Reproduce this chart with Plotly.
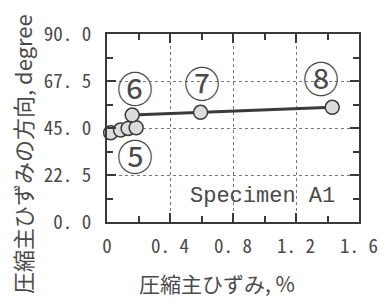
import plotly.graph_objects as go

# data
cluster_x = [0.023, 0.086, 0.134, 0.185]
cluster_y = [42.7, 44.0, 44.8, 45.1]
line_x = [0.16, 0.594, 1.43]
line_y = [51.2, 52.5, 54.9]
label_text = ["⑤", "⑥", "⑦", "⑧"]
label_x = [0.18, 0.18, 0.60, 1.356]
label_y = [32.1, 64.8, 67.2, 69.6]
x_ticks = [0, 0.4, 0.8, 1.2, 1.6]
x_ticktext = ["0", "0. 4", "0. 8", "1. 2", "1. 6"]
y_ticks = [0, 22.5, 45, 67.5, 90]
y_ticktext = ["0. 0", "22. 5", "45. 0", "67. 5", "90. 0"]

ink = "#3a3a3a"
txt = "#4a4a4a"
mk = dict(size=14, color="#dcdcdc", line=dict(color=ink, width=1.5))
mono = "Noto Sans Mono CJK JP, Noto Sans CJK JP, DejaVu Sans Mono"

L, R, T, B = 107, 29, 34, 83
W, H = 388, 305
pw, ph = W - L - R, H - T - B

fig = go.Figure()
fig.add_trace(go.Scatter(x=cluster_x, y=cluster_y, mode="markers", marker=mk,
                         showlegend=False, cliponaxis=False))
fig.add_trace(go.Scatter(x=line_x, y=line_y, mode="lines+markers", marker=mk,
                         line=dict(color=ink, width=3), showlegend=False, cliponaxis=False))

for t, x, y in zip(label_text, label_x, label_y):
    fig.add_annotation(x=x, y=y, text=t, showarrow=False,
                       font=dict(family="Noto Sans CJK JP", size=36, color=txt))

fig.add_annotation(x=0.99, y=12.1, xanchor="center", text="Specimen A1", showarrow=False,
                   xref="x", yref="y",
                   font=dict(family="Liberation Mono", size=22, color=txt))

# y-axis title (vertical)
fig.add_annotation(xref="paper", yref="paper", x=(4 - L) / pw, y=(H - B - 154) / ph,
                   textangle=-90, text="圧縮主ひずみの方向, degree", showarrow=False,
                   font=dict(family="Noto Sans CJK JP", size=22, color=txt))
# x-axis title
fig.add_annotation(xref="paper", yref="paper", x=(217 - L) / pw, y=(H - B - 300) / ph,
                   text="圧縮主ひずみ, %", showarrow=False,
                   font=dict(family="Noto Sans CJK JP", size=21, color=txt))

axis_common = dict(showline=True, linecolor=ink, linewidth=2, mirror="ticks",
                   ticks="inside", ticklen=9, tickwidth=1.5, tickcolor=ink,
                   showgrid=True, gridcolor="#777", griddash="dot", gridwidth=1,
                   zeroline=False, automargin=False,
                   tickfont=dict(family=mono, size=19, color=txt))

fig.update_xaxes(range=[0, 1.6], tickvals=x_ticks, ticktext=x_ticktext,
                 minor=dict(ticks="inside", dtick=0.2, ticklen=6, tickcolor=ink, showgrid=False),
                 ticklabelstandoff=6, **axis_common)
fig.update_yaxes(range=[0, 90], tickvals=y_ticks, ticktext=y_ticktext,
                 minor=dict(ticks="inside", dtick=11.25, ticklen=6, tickcolor=ink, showgrid=False),
                 ticklabelstandoff=10, **axis_common)

fig.update_layout(width=W, height=H, margin=dict(l=L, r=R, t=T, b=B),
                  plot_bgcolor="white", paper_bgcolor="white")

fig.write_html("out.html", config={"displayModeBar": False},
               post_script="document.body.style.margin='0';")
